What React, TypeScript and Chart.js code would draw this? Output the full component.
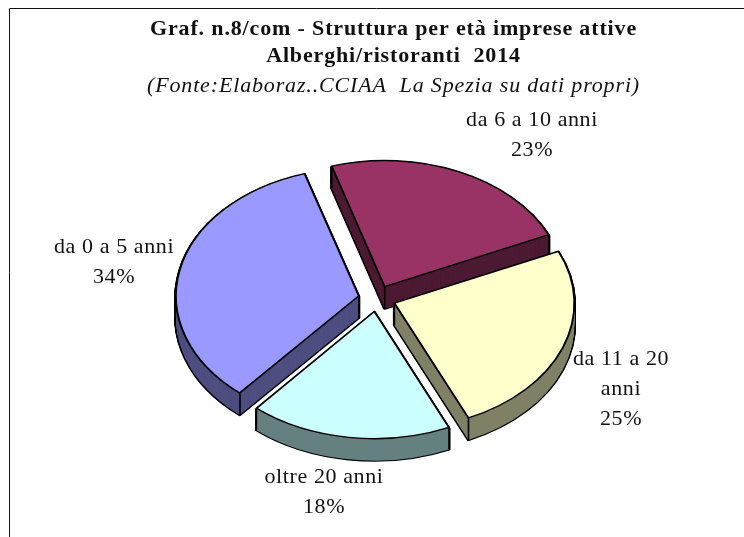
import React, { useEffect, useRef } from "react";
import { Chart, registerables } from "chart.js";

Chart.register(...registerables);

const titleLines = ["Graf. n.8/com - Struttura per età imprese attive", "Alberghi/ristoranti  2014"];
const subtitleText = "(Fonte:Elaboraz..CCIAA  La Spezia su dati propri)";
const categories = ["da 0 a 5 anni", "da 6 a 10 anni", "da 11 a 20 anni", "oltre 20 anni"];
const categoryLines = [["da 0 a 5 anni"], ["da 6 a 10 anni"], ["da 11 a 20", "anni"], ["oltre 20 anni"]];
const shares = [34, 23, 25, 18];
const topColors = ["#9999ff", "#993366", "#ffffcc", "#ccffff"];
const wallColors = ["#4d4d80", "#4d1a33", "#808066", "#668080"];
const labelCentres = [[114, 262], [532, 135], [621, 389], [324, 492]];

const SERIF = "'Liberation Serif', 'Times New Roman', serif";
const SQUASH = 0.7;
const DEPTH = 22;
const PIE_SHIFT = -16.5;
const EXPLODE = 18.6;

const pie3d = {
  id: "pie3d",
  beforeDraw(chart: any) {
    const c = chart.ctx;
    c.save();
    c.fillStyle = "#ffffff";
    c.fillRect(0, 0, chart.width, chart.height);
    c.strokeStyle = "#111111";
    c.lineWidth = 1;
    c.beginPath();
    c.moveTo(9.5, chart.height);
    c.lineTo(9.5, 8.5);
    c.lineTo(chart.width, 8.5);
    c.stroke();
    c.restore();
    (c as any).letterSpacing = "0.85px";
  },
  beforeDatasetsDraw(chart: any) {
    const c = chart.ctx;
    const arcs = chart.getDatasetMeta(0).data;
    const cy = arcs[0].y;
    const apply = (dy: number) => {
      c.translate(PIE_SHIFT, dy + cy);
      c.scale(1, SQUASH);
      c.translate(0, -cy);
    };
    const stack = (style: (i: number) => any) => {
      arcs.forEach((arc: any, i: number) => {
        const original = arc.options;
        arc.options = { ...original, ...style(i) };
        for (let d = DEPTH; d >= 1; d -= 1) {
          c.save();
          apply(d);
          arc.draw(c);
          c.restore();
        }
        arc.options = original;
      });
    };
    stack(() => ({ backgroundColor: "#000000", borderColor: "#000000", borderWidth: 3.2 }));
    stack((i) => ({ backgroundColor: wallColors[i], borderColor: wallColors[i], borderWidth: 0 }));

    // vertical edges of the walls
    c.save();
    c.strokeStyle = "#000000";
    c.lineWidth = 1.6;
    arcs.forEach((arc: any) => {
      const half = (arc.startAngle + arc.endAngle) / 2;
      const off = EXPLODE;
      const ox = arc.x + PIE_SHIFT + Math.cos(half) * off;
      const oy = arc.y + Math.sin(half) * off * SQUASH;
      const fix = 1 - Math.sin(Math.min(Math.PI, arc.circumference));
      const R = arc.outerRadius + off * fix;
      const corners = [
        [ox, oy],
        [ox + Math.cos(arc.startAngle) * R, oy + Math.sin(arc.startAngle) * R * SQUASH],
        [ox + Math.cos(arc.endAngle) * R, oy + Math.sin(arc.endAngle) * R * SQUASH],
      ];
      corners.forEach(([x, y]) => {
        c.beginPath();
        c.moveTo(x, y);
        c.lineTo(x, y + DEPTH);
        c.stroke();
      });
    });
    c.restore();

    c.save();
    apply(0);
  },
  afterDatasetsDraw(chart: any) {
    const c = chart.ctx;
    c.restore();
    c.save();
    (c as any).letterSpacing = "0.6px";
    c.fillStyle = "#111111";
    c.font = `22px ${SERIF}`;
    c.textAlign = "center";
    c.textBaseline = "middle";
    categoryLines.forEach((lines, i) => {
      const rows = [...lines, `${shares[i]}%`];
      const [x, y] = labelCentres[i];
      rows.forEach((row, r) => {
        c.fillText(row, x, y + (r - (rows.length - 1) / 2) * 30);
      });
    });
    c.restore();
  },
};

export default function App() {
  const ref = useRef<HTMLCanvasElement>(null);
  useEffect(() => {
    const chart = new Chart(ref.current as HTMLCanvasElement, {
      type: "pie",
      data: {
        labels: categories,
        datasets: [
          {
            data: shares,
            backgroundColor: topColors,
            borderColor: "#000000",
            borderWidth: 2,
            offset: EXPLODE * 4,
            borderJoinStyle: "round",
          } as any,
        ],
      },
      options: {
        responsive: false,
        animation: false,
        rotation: 220.5,
        radius: 180,
        layout: { padding: { left: 43, right: 0, top: 16, bottom: 40 } },
        plugins: {
          legend: { display: false },
          tooltip: { enabled: false },
          title: {
            display: true,
            text: titleLines,
            color: "#111111",
            font: { family: SERIF, size: 22, weight: "bold", lineHeight: 27 / 22 },
            padding: { top: 0, bottom: 3 },
          },
          subtitle: {
            display: true,
            text: subtitleText,
            color: "#111111",
            font: { family: SERIF, size: 22, style: "italic", weight: "normal", lineHeight: 27 / 22 },
            padding: { top: 0, bottom: 0 },
          },
        },
      } as any,
      plugins: [pie3d],
    });
    return () => chart.destroy();
  }, []);
  return (
    <canvas
      ref={ref}
      width={744}
      height={537}
      style={{ position: "absolute", left: 0, top: 0, display: "block" }}
    />
  );
}
